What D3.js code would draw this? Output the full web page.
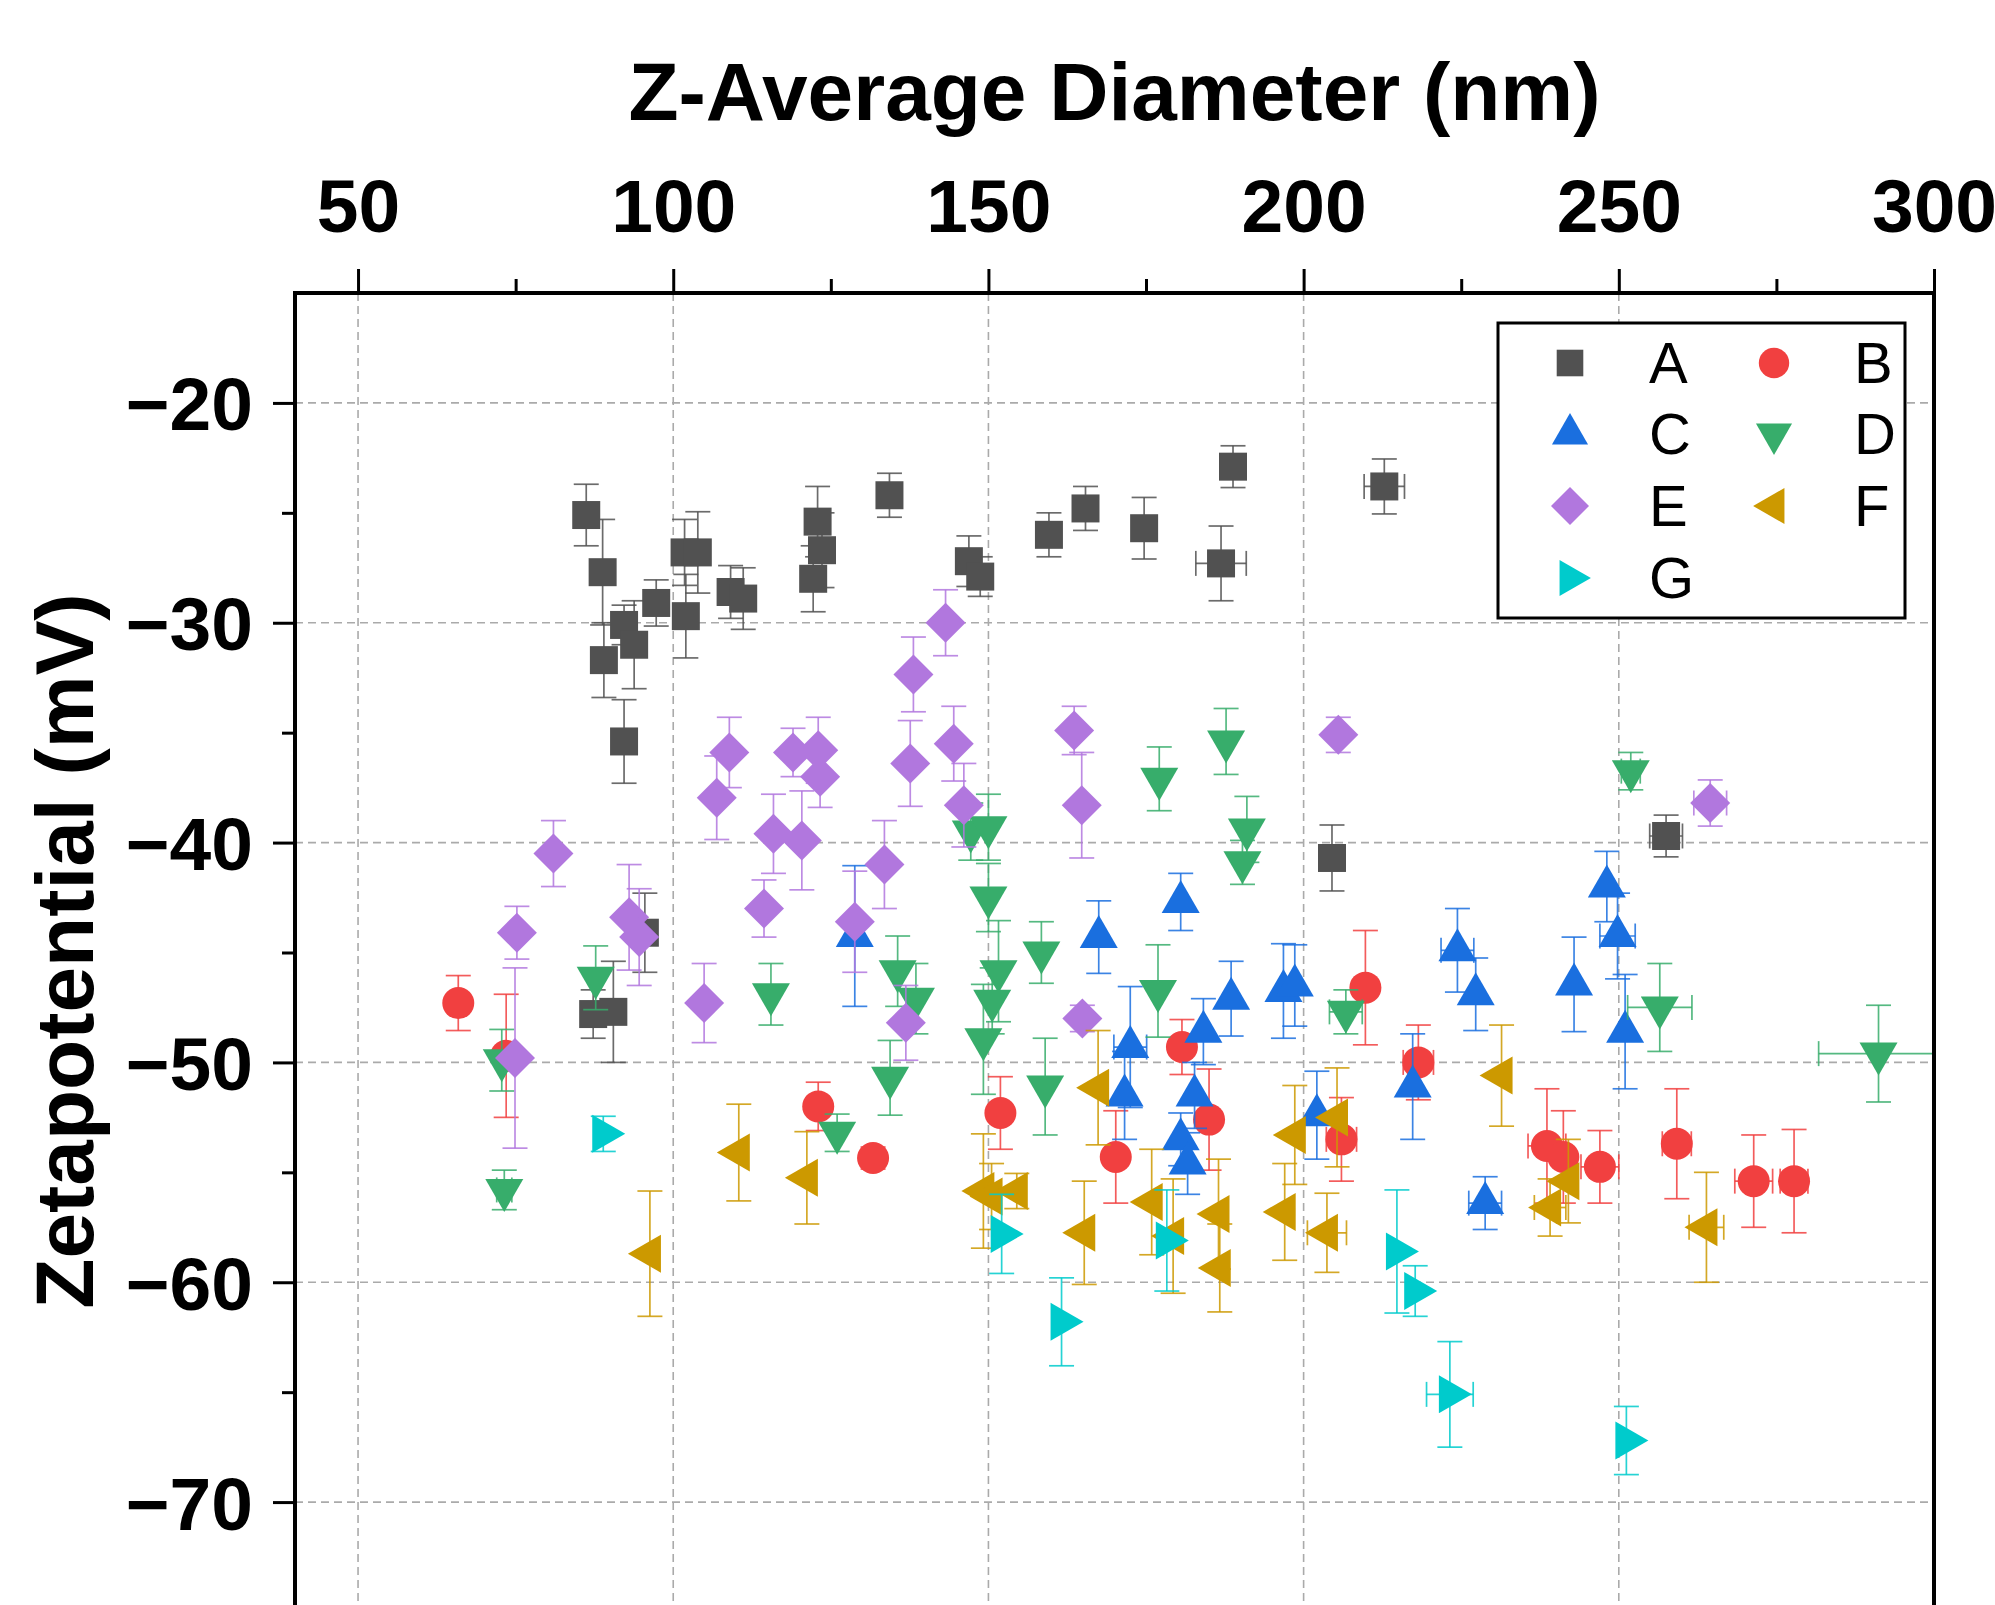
<!DOCTYPE html>
<html>
<head>
<meta charset="utf-8">
<script src="https://cdn.jsdelivr.net/npm/d3@7"></script>
<style>
html,body{margin:0;padding:0;background:#fff;}
svg{display:block;}
</style>
</head>
<body>
<svg id="chart" width="1995" height="1605"></svg>
<script>
// ---------- data: [diameter, zeta, yErr, xErr] ----------
const seriesA = [
  [86.2,-25.1,1.4,0],[88.8,-27.7,2.4,0],[89.0,-31.7,1.7,0],[92.2,-30.1,0.9,0],
  [93.8,-31.0,2.0,0],[92.2,-35.4,1.9,0],[97.3,-29.1,1.05,0],[102.0,-29.7,1.9,0],
  [101.8,-26.8,1.5,0],[103.9,-26.8,1.85,0],[109.1,-28.6,1.2,0],[111.1,-28.9,1.4,0],
  [122.9,-25.4,1.6,0],[123.6,-26.7,1.7,0],[122.2,-28.0,1.5,0],[134.3,-24.2,1.0,0],
  [146.9,-27.2,1.15,0],[148.7,-27.9,0.9,0],[159.6,-26.0,1.0,0],[165.4,-24.8,1.0,0],
  [174.7,-25.7,1.4,0],[186.9,-27.3,1.7,4.0],[188.8,-22.9,0.95,0],[212.8,-23.8,1.25,3.2],
  [204.5,-40.7,1.5,0],[257.5,-39.7,0.95,2.6],[95.5,-44.1,1.8,0],[87.3,-47.8,1.1,0],
  [90.5,-47.7,2.3,0]
];
const seriesB = [
  [65.9,-47.3,1.25,0],[73.5,-49.7,2.8,0.8],[123.0,-52.0,1.1,0],[131.7,-54.35,0.5,0],
  [151.9,-52.3,1.65,0],[170.2,-54.3,2.1,0],[180.7,-49.3,1.25,0],[185.0,-52.6,2.3,0],
  [209.8,-46.6,2.6,0],[218.2,-50.0,1.7,2.4],[206.0,-53.5,1.9,2.4],[238.6,-53.8,2.6,3.0],
  [241.2,-54.3,2.1,0],[247.0,-54.75,1.65,3.0],[259.2,-53.7,2.5,2.3],[271.4,-55.4,2.1,3.0],
  [277.8,-55.4,2.35,2.2]
];
const seriesC = [
  [128.8,-44.25,3.2,0],[167.5,-44.3,1.65,0],[180.5,-42.7,1.3,0],[172.5,-49.3,2.75,2.6],
  [171.6,-51.5,2.0,0],[184.1,-48.6,1.5,0],[188.5,-47.1,1.7,0],[182.7,-51.5,1.5,0],
  [180.5,-53.5,1.2,0],[181.6,-54.6,1.4,0],[196.8,-46.75,2.15,0],[198.6,-46.5,1.85,0],
  [202.1,-52.4,2.0,0],[217.3,-51.1,2.4,0],[224.4,-44.9,1.9,2.6],[227.3,-46.9,1.65,0],
  [242.9,-46.45,2.15,0],[248.1,-42.0,1.6,0],[249.8,-44.25,1.95,2.8],[251.0,-48.6,2.6,0],
  [228.8,-56.4,1.2,2.6]
];
const seriesD = [
  [73.2,-55.8,0.9,1.2],[72.8,-49.9,1.4,0],[87.7,-46.15,1.45,0],[115.5,-46.9,1.4,0],
  [126.0,-53.2,0.85,0],[134.4,-50.7,1.7,0],[135.6,-45.85,1.6,0],[138.5,-47.1,1.6,0],
  [147.2,-39.5,1.3,0],[150.0,-39.3,1.5,0],[150.0,-42.5,1.55,0],[151.6,-45.85,2.3,0],
  [150.6,-47.2,1.5,0],[149.2,-48.95,2.5,0],[158.4,-45.0,1.4,0],[159.0,-51.1,2.2,0],
  [176.9,-46.75,2.1,0],[177.1,-37.1,1.45,0],[187.7,-35.4,1.5,0],[191.0,-39.4,1.5,0],
  [190.3,-40.9,1.0,0],[206.7,-47.7,1.0,2.6],[251.9,-36.75,0.85,1.5],[256.5,-47.5,2.0,5.1],
  [291.2,-49.6,2.2,9.5]
];
const seriesE = [
  [81.0,-40.5,1.5,0],[75.2,-44.1,1.2,0],[74.9,-49.8,4.1,0],[93.0,-43.4,2.4,0],
  [94.6,-44.3,2.2,0],[104.9,-47.3,1.8,0],[106.9,-37.96,1.9,0],[115.9,-39.6,1.8,0],
  [120.4,-39.9,2.25,0],[114.4,-43.0,1.3,0],[108.9,-35.9,1.6,0],[119.0,-35.9,1.1,0],
  [123.0,-35.8,1.5,0],[123.3,-37.0,1.4,0],[143.2,-30.0,1.5,0],[138.1,-32.35,1.7,0],
  [137.6,-36.4,1.95,0],[144.5,-35.5,1.7,0],[146.1,-38.3,1.9,0],[163.6,-34.9,1.1,0],
  [164.8,-38.3,2.4,0],[133.5,-41.0,2.0,0],[128.8,-43.6,2.3,0],[136.9,-48.2,1.7,0],
  [164.9,-48.0,0.6,0],[205.5,-35.1,0.8,0],[264.5,-38.2,1.05,2.6]
];
const seriesF = [
  [96.3,-58.7,2.85,0],[110.4,-54.1,2.2,0],[121.2,-55.25,2.1,0],[149.2,-55.85,2.6,0],
  [150.5,-56.1,1.5,0],[154.5,-55.85,0.8,0],[165.2,-57.75,2.35,0],[167.4,-51.15,2.6,0],
  [175.9,-56.35,2.4,0],[179.3,-57.9,2.6,0],[186.5,-56.9,2.5,0],[186.7,-59.35,2.0,0],
  [197.0,-56.8,2.2,0],[198.6,-53.3,2.25,0],[203.7,-57.75,1.8,3.1],[205.3,-52.5,2.25,0],
  [231.4,-50.6,2.3,0],[239.1,-56.6,1.3,2.5],[242.0,-55.4,1.9,0],[263.9,-57.5,2.5,2.75]
];
const seriesG = [
  [88.9,-53.25,0.8,0],[152.1,-57.8,1.8,0],[161.6,-61.8,2.0,0],[178.3,-58.1,2.3,0],
  [214.8,-58.6,2.8,0],[217.7,-60.4,1.15,0],[223.2,-65.1,2.4,3.7],[251.2,-67.2,1.55,0]
];
const seriesNames = ["A","B","C","D","E","F","G"];
const seriesData = [seriesA, seriesB, seriesC, seriesD, seriesE, seriesF, seriesG];
const xTicks = [50,100,150,200,250,300];
const xMinorTicks = [75,125,175,225,275];
const yTicks = [-20,-30,-40,-50,-60,-70];
const yMinorTicks = [-25,-35,-45,-55,-65];
const xTitle = "Z-Average Diameter (nm)";
const yTitle = "Zetapotential (mV)";

// ---------- styles ----------
const colors = ["#515151","#F14040","#1A6FDF","#37AD6B","#B177DE","#CC9900","#00CBCC"];
const shapes = ["square","circle","up","down","diamond","left","right"];
const FONT = "'Liberation Sans', Arial, sans-serif";

function shapePath(s){
  switch(s){
    case "square": return "M-14,-14h28v28h-28Z";
    case "circle": return "M16,0A16,16 0 1,1 -16,0A16,16 0 1,1 16,0Z";
    case "up": return "M0,-22L19,11L-19,11Z";
    case "down": return "M0,22L19,-11L-19,-11Z";
    case "left": return "M-22,0L11,-19L11,19Z";
    case "right": return "M22,0L-11,-19L-11,19Z";
    case "diamond": return "M0,-20L20,0L0,20L-20,0Z";
  }
}

const svg = d3.select("#chart");
const L = 295, R = 1934, T = 293;
const x = d3.scaleLinear().domain([40,300]).range([L,R]);
const y = d3.scaleLinear().domain([-15,-75]).range([T,1612]);

svg.append("rect").attr("width",1995).attr("height",1605).attr("fill","#fff");

svg.append("clipPath").attr("id","plotclip").append("rect")
  .attr("x",L).attr("y",T).attr("width",R-L).attr("height",1612-T);

// gridlines
const grid = svg.append("g").attr("stroke","#aaaaaa").attr("stroke-width",1.6)
  .attr("stroke-dasharray","8,5");
grid.selectAll(".gx").data(xTicks.filter(t=>t<300)).enter().append("line")
  .attr("x1",d=>x(d)).attr("x2",d=>x(d)).attr("y1",T).attr("y2",1612);
grid.selectAll(".gy").data(yTicks).enter().append("line")
  .attr("x1",L).attr("x2",R).attr("y1",d=>y(d)).attr("y2",d=>y(d));

// data
const plot = svg.append("g").attr("clip-path","url(#plotclip)");
const CAP = 12.5;
seriesData.forEach((data,i)=>{
  const g = plot.append("g");
  const col = colors[i];
  const eb = g.append("g").attr("stroke",col).attr("stroke-width",1.7).attr("stroke-opacity",0.85).attr("fill","none");
  data.forEach(d=>{
    const cx = x(d[0]), cy = y(d[1]);
    if(d[2]>0){
      const y1 = y(d[1]+d[2]), y2 = y(d[1]-d[2]);
      eb.append("line").attr("x1",cx).attr("x2",cx).attr("y1",y1).attr("y2",y2);
      eb.append("line").attr("x1",cx-CAP).attr("x2",cx+CAP).attr("y1",y1).attr("y2",y1);
      eb.append("line").attr("x1",cx-CAP).attr("x2",cx+CAP).attr("y1",y2).attr("y2",y2);
    }
    if(d[3]>0){
      const x1 = x(d[0]-d[3]), x2 = x(d[0]+d[3]);
      eb.append("line").attr("x1",x1).attr("x2",x2).attr("y1",cy).attr("y2",cy);
      eb.append("line").attr("x1",x1).attr("x2",x1).attr("y1",cy-CAP).attr("y2",cy+CAP);
      eb.append("line").attr("x1",x2).attr("x2",x2).attr("y1",cy-CAP).attr("y2",cy+CAP);
    }
  });
  g.selectAll("path.m").data(data).enter().append("path")
    .attr("d",shapePath(shapes[i]))
    .attr("transform",d=>`translate(${x(d[0])},${y(d[1])})`)
    .attr("fill",col);
});

// frame
const frame = svg.append("g").attr("stroke","#000").attr("stroke-width",4).attr("fill","none");
frame.append("path").attr("d",`M${L},1612V${T}H${R}V1612`).attr("stroke-linejoin","miter");

// top axis
const xAxis = d3.axisTop(x).tickValues(xTicks).tickSize(22).tickPadding(37).tickFormat(d3.format("d"));
const gx = svg.append("g").attr("transform",`translate(0,${T-2})`).call(xAxis);
gx.select(".domain").remove();
gx.selectAll(".tick line").attr("stroke","#000").attr("stroke-width",3);
gx.selectAll(".tick text").attr("font-family",FONT).attr("font-weight","bold")
  .attr("font-size",75).attr("fill","#000");
const xMinor = d3.axisTop(x).tickValues(xMinorTicks).tickSize(12).tickFormat("");
const gxm = svg.append("g").attr("transform",`translate(0,${T-2})`).call(xMinor);
gxm.select(".domain").remove();
gxm.selectAll(".tick line").attr("stroke","#000").attr("stroke-width",3);

// left axis
const yAxis = d3.axisLeft(y).tickValues(yTicks).tickSize(20).tickPadding(20)
  .tickFormat(d=>d3.format("d")(d).replace("-","\u2212"));
const gy = svg.append("g").attr("transform",`translate(${L-2},0)`).call(yAxis);
gy.select(".domain").remove();
gy.selectAll(".tick line").attr("stroke","#000").attr("stroke-width",3);
gy.selectAll(".tick text").attr("font-family",FONT).attr("font-weight","bold")
  .attr("font-size",75).attr("fill","#000").attr("dy","0.36em");
const yMinor = d3.axisLeft(y).tickValues(yMinorTicks).tickSize(11).tickFormat("");
const gym = svg.append("g").attr("transform",`translate(${L-2},0)`).call(yMinor);
gym.select(".domain").remove();
gym.selectAll(".tick line").attr("stroke","#000").attr("stroke-width",3);

// titles
svg.append("text").attr("x",(L+R)/2).attr("y",120).attr("text-anchor","middle")
  .attr("font-family",FONT).attr("font-weight","bold").attr("font-size",82).text(xTitle);
svg.append("text").attr("transform",`translate(93,951) rotate(-90)`).attr("text-anchor","middle")
  .attr("font-family",FONT).attr("font-weight","bold").attr("font-size",82).text(yTitle);

// legend
const lg = svg.append("g");
lg.append("rect").attr("x",1498).attr("y",323).attr("width",407).attr("height",295)
  .attr("fill","#fff").attr("stroke","#000").attr("stroke-width",3);
const rowsY = [363,434,506,578];
seriesNames.forEach((n,i)=>{
  const row = Math.floor(i/2), col = i%2;
  const sx = col===0 ? 1570 : 1774;
  const tx = col===0 ? 1649 : 1854;
  lg.append("path").attr("d",shapePath(shapes[i]))
    .attr("transform",`translate(${sx},${rowsY[row]}) scale(0.95)`).attr("fill",colors[i]);
  lg.append("text").attr("x",tx).attr("y",rowsY[row]+20).attr("font-family",FONT)
    .attr("font-size",58).attr("fill","#000").text(n);
});
</script>
</body>
</html>
